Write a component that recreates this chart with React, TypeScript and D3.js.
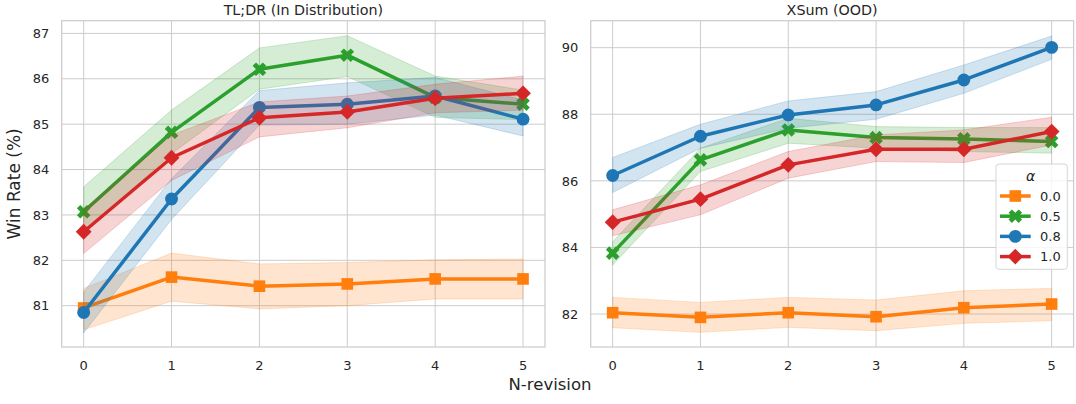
import React, { useRef, useEffect } from "react";
import * as d3 from "d3";

// x categories
const nRevision = [0, 1, 2, 3, 4, 5];
const alphaLabels = ["0.0", "0.5", "0.8", "1.0"];
const colors = ["#ff7f0e", "#2ca02c", "#1f77b4", "#d62728"];
const markerKinds = ["square", "x", "circle", "diamond"];

// TL;DR (In Distribution)
const tldrMean00 = [80.95, 81.63, 81.43, 81.48, 81.59, 81.59];
const tldrLow00 = [80.47, 81.1, 80.93, 81.0, 81.15, 81.15];
const tldrHigh00 = [81.38, 82.16, 81.92, 81.95, 82.01, 82.03];
const tldrMean05 = [83.07, 84.82, 86.21, 86.52, 85.59, 85.44];
const tldrLow05 = [82.6, 84.35, 85.77, 86.05, 85.15, 85.1];
const tldrHigh05 = [83.62, 85.31, 86.68, 86.95, 86.06, 85.75];
const tldrMean08 = [80.85, 83.35, 85.37, 85.44, 85.62, 85.11];
const tldrLow08 = [80.4, 82.9, 84.98, 85.0, 85.2, 84.74];
const tldrHigh08 = [81.3, 83.8, 85.74, 85.91, 86.03, 85.53];
const tldrMean10 = [82.63, 84.26, 85.14, 85.27, 85.57, 85.68];
const tldrLow10 = [82.15, 83.76, 84.72, 84.92, 85.25, 85.31];
const tldrHigh10 = [83.12, 84.76, 85.49, 85.62, 85.88, 86.06];
const tldrTicks = [81, 82, 83, 84, 85, 86, 87];

// XSum (OOD)
const xsumMean00 = [82.04, 81.9, 82.04, 81.92, 82.19, 82.3];
const xsumLow00 = [81.59, 81.45, 81.6, 81.5, 81.72, 81.8];
const xsumHigh00 = [82.5, 82.35, 82.5, 82.42, 82.7, 82.77];
const xsumMean05 = [83.83, 86.63, 87.53, 87.3, 87.26, 87.18];
const xsumLow05 = [83.47, 86.28, 87.13, 86.98, 86.88, 86.83];
const xsumHigh05 = [84.17, 86.98, 87.88, 87.63, 87.6, 87.6];
const xsumMean08 = [86.16, 87.34, 87.98, 88.28, 89.03, 90.01];
const xsumLow08 = [85.65, 86.98, 87.58, 87.85, 88.63, 89.65];
const xsumHigh08 = [86.7, 87.7, 88.4, 88.68, 89.48, 90.35];
const xsumMean10 = [84.76, 85.45, 86.48, 86.95, 86.95, 87.48];
const xsumLow10 = [84.35, 84.98, 86.08, 86.58, 86.55, 87.08];
const xsumHigh10 = [85.13, 85.88, 86.88, 87.38, 87.53, 87.91];
const xsumTicks = [82, 84, 86, 88, 90];

const WIDTH = 1076;
const HEIGHT = 404;
const FONT = "DejaVu Sans, sans-serif";
const GRID = "#cccccc";
const TEXT = "#262626";

interface Panel {
  title: string;
  left: number;
  right: number;
  yDomain: [number, number];
  yTicks: number[];
  mean: number[][];
  low: number[][];
  high: number[][];
}

const panels: Panel[] = [
  {
    title: "TL;DR (In Distribution)",
    left: 61.7,
    right: 545,
    yDomain: [80.09, 87.28],
    yTicks: tldrTicks,
    mean: [tldrMean00, tldrMean05, tldrMean08, tldrMean10],
    low: [tldrLow00, tldrLow05, tldrLow08, tldrLow10],
    high: [tldrHigh00, tldrHigh05, tldrHigh08, tldrHigh10],
  },
  {
    title: "XSum (OOD)",
    left: 590.7,
    right: 1073.6,
    yDomain: [81.01, 90.81],
    yTicks: xsumTicks,
    mean: [xsumMean00, xsumMean05, xsumMean08, xsumMean10],
    low: [xsumLow00, xsumLow05, xsumLow08, xsumLow10],
    high: [xsumHigh00, xsumHigh05, xsumHigh08, xsumHigh10],
  },
];

const TOP = 20.7;
const BOTTOM = 347;

function markerPath(kind: string) {
  if (kind === "square") return { d: d3.symbol(d3.symbolSquare, 135)()!, rot: 0 };
  if (kind === "circle") return { d: d3.symbol(d3.symbolCircle, 130)()!, rot: 0 };
  if (kind === "diamond") return { d: d3.symbol(d3.symbolSquare, 125)()!, rot: 45 };
  return { d: d3.symbol(d3.symbolCross, 115)()!, rot: 45 };
}

export default function App() {
  const svgRef = useRef<SVGSVGElement>(null);

  useEffect(() => {
    if (!svgRef.current) return;
    const svg = d3.select(svgRef.current);
    svg.selectAll("*").remove();

    svg.append("rect").attr("width", WIDTH).attr("height", HEIGHT).attr("fill", "white");

    panels.forEach((p) => {
      const x = d3.scaleLinear().domain([-0.25, 5.25]).range([p.left, p.right]);
      const y = d3.scaleLinear().domain(p.yDomain).range([BOTTOM, TOP]);
      const g = svg.append("g");

      // grid
      g.selectAll(".vgrid")
        .data(nRevision)
        .join("line")
        .attr("x1", (d) => x(d))
        .attr("x2", (d) => x(d))
        .attr("y1", TOP)
        .attr("y2", BOTTOM)
        .attr("stroke", GRID)
        .attr("stroke-width", 1);
      g.selectAll(".hgrid")
        .data(p.yTicks)
        .join("line")
        .attr("x1", p.left)
        .attr("x2", p.right)
        .attr("y1", (d) => y(d))
        .attr("y2", (d) => y(d))
        .attr("stroke", GRID)
        .attr("stroke-width", 1);

      // series: line + markers, then the band on top (as seaborn does)
      p.mean.forEach((vals, i) => {
        const pts = vals.map((v, j) => ({ x: nRevision[j], y: v, lo: p.low[i][j], hi: p.high[i][j] }));
        const line = d3
          .line<{ x: number; y: number }>()
          .x((d) => x(d.x))
          .y((d) => y(d.y));
        g.append("path")
          .datum(pts)
          .attr("d", line)
          .attr("fill", "none")
          .attr("stroke", colors[i])
          .attr("stroke-width", 3.5)
          .attr("stroke-linejoin", "round");
        const m = markerPath(markerKinds[i]);
        g.selectAll(null)
          .data(pts)
          .join("path")
          .attr("d", m.d)
          .attr("transform", (d) => `translate(${x(d.x)},${y(d.y)}) rotate(${m.rot})`)
          .attr("fill", colors[i]);
        const area = d3
          .area<{ x: number; lo: number; hi: number }>()
          .x((d) => x(d.x))
          .y0((d) => y(d.lo))
          .y1((d) => y(d.hi));
        g.append("path")
          .datum(pts)
          .attr("d", area)
          .attr("fill", colors[i])
          .attr("fill-opacity", 0.2)
          .attr("stroke", colors[i])
          .attr("stroke-opacity", 0.2)
          .attr("stroke-width", 1);
      });

      // frame
      g.append("rect")
        .attr("x", p.left)
        .attr("y", TOP)
        .attr("width", p.right - p.left)
        .attr("height", BOTTOM - TOP)
        .attr("fill", "none")
        .attr("stroke", GRID)
        .attr("stroke-width", 1.25);

      // tick labels
      g.selectAll(".xt")
        .data(nRevision)
        .join("text")
        .attr("x", (d) => x(d))
        .attr("y", 370)
        .attr("text-anchor", "middle")
        .attr("font-size", 13)
        .attr("font-family", FONT)
        .attr("fill", TEXT)
        .text((d) => d);
      g.selectAll(".yt")
        .data(p.yTicks)
        .join("text")
        .attr("x", p.left - 12.4)
        .attr("y", (d) => y(d))
        .attr("dy", "0.36em")
        .attr("text-anchor", "end")
        .attr("font-size", 13)
        .attr("font-family", FONT)
        .attr("fill", TEXT)
        .text((d) => d);

      g.append("text")
        .attr("x", (p.left + p.right) / 2)
        .attr("y", 14.5)
        .attr("text-anchor", "middle")
        .attr("font-size", 14.3)
        .attr("font-family", FONT)
        .attr("fill", TEXT)
        .text(p.title);
    });

    // axis labels
    svg.append("text")
      .attr("transform", `translate(14,${(TOP + BOTTOM) / 2}) rotate(-90)`)
      .attr("text-anchor", "middle")
      .attr("dy", "0.36em")
      .attr("font-size", 17)
      .attr("font-family", FONT)
      .attr("fill", TEXT)
      .text("Win Rate (%)");
    svg.append("text")
      .attr("x", 550)
      .attr("y", 390)
      .attr("text-anchor", "middle")
      .attr("font-size", 16.5)
      .attr("font-family", FONT)
      .attr("fill", TEXT)
      .text("N-revision");

    // legend
    const lg = svg.append("g");
    lg.append("rect")
      .attr("x", 996)
      .attr("y", 164)
      .attr("width", 71.3)
      .attr("height", 105.3)
      .attr("rx", 3)
      .attr("fill", "white")
      .attr("fill-opacity", 0.8)
      .attr("stroke", "#d6d6d6")
      .attr("stroke-width", 1);
    lg.append("text")
      .attr("x", 1030.7)
      .attr("y", 176)
      .attr("dy", "0.36em")
      .attr("text-anchor", "middle")
      .attr("font-size", 14)
      .attr("font-style", "italic")
      .attr("font-family", FONT)
      .attr("fill", TEXT)
      .text("α");
    alphaLabels.forEach((lab, i) => {
      const yy = 196 + i * 20.2;
      lg.append("line")
        .attr("x1", 1000)
        .attr("x2", 1030.7)
        .attr("y1", yy)
        .attr("y2", yy)
        .attr("stroke", colors[i])
        .attr("stroke-width", 3.5);
      const m = markerPath(markerKinds[i]);
      lg.append("path")
        .attr("d", m.d)
        .attr("transform", `translate(1015.3,${yy}) rotate(${m.rot})`)
        .attr("fill", colors[i]);
      lg.append("text")
        .attr("x", 1040)
        .attr("y", yy)
        .attr("dy", "0.36em")
        .attr("font-size", 13)
        .attr("font-family", FONT)
        .attr("fill", TEXT)
        .text(lab);
    });
  }, []);

  return (
    <div style={{ position: "fixed", left: 0, top: 0 }}>
      <svg ref={svgRef} width={WIDTH} height={HEIGHT} style={{ display: "block" }} />
    </div>
  );
}
